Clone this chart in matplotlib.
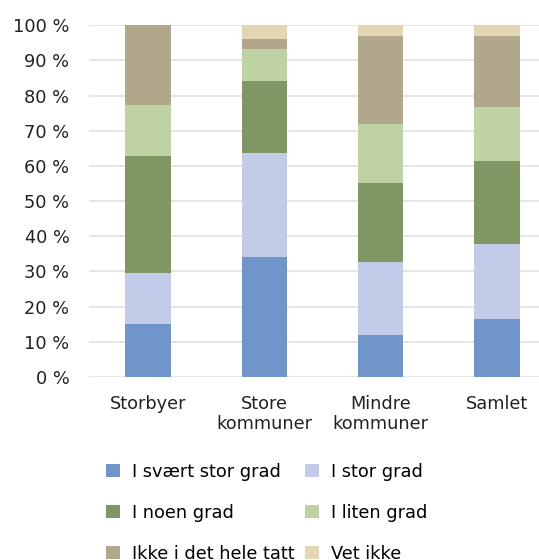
import numpy as np
import matplotlib.pyplot as plt

categories = ["Storbyer", "Store\nkommuner", "Mindre\nkommuner", "Samlet"]
series_names = ["I svært stor grad", "I stor grad", "I noen grad",
                "I liten grad", "Ikke i det hele tatt", "Vet ikke"]
svaert_stor = [15.0, 34.1, 12.0, 16.6]
stor = [14.5, 29.5, 20.6, 21.3]
noen = [33.3, 20.5, 22.6, 23.5]
liten = [14.5, 9.1, 16.8, 15.2]
ikke = [22.7, 2.9, 25.0, 20.4]
vet_ikke = [0.0, 3.9, 3.0, 3.0]
colors = ["#6F95CB", "#C2CCE8", "#7F9762", "#BFD2A4", "#B1A78B", "#E4D6B2"]

plt.rcParams['font.family'] = ['DejaVu Sans']

fig = plt.figure(figsize=(5.39, 5.60), dpi=100)
ax = fig.add_axes([0.165, 0.327, 0.835, 0.628])

x = np.arange(len(categories))
bottom = np.zeros(len(categories))
handles = []
for name, vals, col in zip(series_names, [svaert_stor, stor, noen, liten, ikke, vet_ikke], colors):
    b = ax.bar(x, vals, width=0.39, bottom=bottom, color=col, label=name, zorder=3)
    handles.append(b)
    bottom += np.array(vals)

ax.set_ylim(0, 100)
ax.set_xlim(-0.507, 3.36)
ax.set_yticks(range(0, 101, 10))
ax.set_yticklabels([f"{v} %" for v in range(0, 101, 10)], fontsize=12.8, color="#222222")
ax.set_xticks(x)
ax.set_xticklabels(categories, fontsize=12.8, color="#222222", linespacing=1.15)
ax.tick_params(length=0, pad=14, axis='y')
ax.tick_params(length=0, pad=13, axis='x')
ax.grid(axis='y', color='#E0E0E0', linewidth=1.2, zorder=0)
for s in ax.spines.values():
    s.set_visible(False)

# matplotlib fills legend columns first, so reorder to read row-wise
order = [0, 2, 4, 1, 3, 5]
fig.legend([handles[i] for i in order], [series_names[i] for i in order],
           ncol=2, loc='upper left', bbox_to_anchor=(0.197, 0.174),
           frameon=False, fontsize=12.8, handlelength=0.75, handleheight=0.75,
           handletextpad=0.7, labelspacing=1.3, columnspacing=0.6,
           borderaxespad=0, borderpad=0)

fig.savefig("out.png", dpi=100)
